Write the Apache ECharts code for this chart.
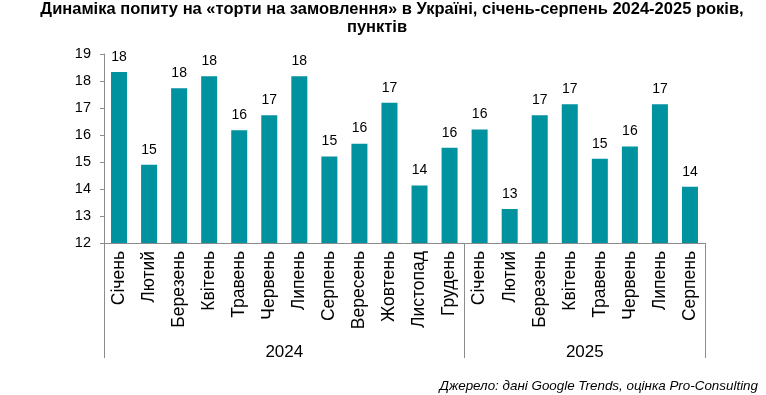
<!DOCTYPE html>
<html>
<head>
<meta charset="utf-8">
<script src="https://cdn.jsdelivr.net/npm/echarts@6/dist/echarts.min.js"></script>
<style>
html,body{margin:0;padding:0;background:#fff;}
#chart{width:766px;height:395px;}
</style>
</head>
<body>
<div id="chart"></div>
<script>
const months = ['Січень','Лютий','Березень','Квітень','Травень','Червень','Липень','Серпень','Вересень','Жовтень','Листопад','Грудень',
                'Січень','Лютий','Березень','Квітень','Травень','Червень','Липень','Серпень'];
const values = [18.33,14.9,17.73,18.18,16.18,16.73,18.18,15.2,15.68,17.19,14.13,15.53,
                16.2,13.26,16.73,17.14,15.12,15.57,17.14,14.08];
const years = ['2024','2025'];
const yearCounts = [12, 8];
const yTicks = [12,13,14,15,16,17,18,19];

const titleLine1 = 'Динаміка попиту на «торти на замовлення» в Україні, січень-серпень 2024-2025 років,';
const titleLine2 = 'пунктів';
const sourceText = 'Джерело: дані Google Trends, оцінка Pro-Consulting';

const FONT = '"Liberation Sans", Arial, sans-serif';
const AXIS_GRAY = '#8c8c8c';

// group boundaries and centers in category units
const bounds = [0];
yearCounts.forEach(c => bounds.push(bounds[bounds.length-1] + c));
const centers = yearCounts.map((c, i) => bounds[i] + c / 2);
const total = bounds[bounds.length-1];

const chart = echarts.init(document.getElementById('chart'), null, {renderer:'canvas'});
chart.setOption({
  animation: false,
  backgroundColor: '#fff',
  textStyle: {fontFamily: FONT},
  title: [
    {text: titleLine1, left: 392, top: 1, padding: 0, textAlign: 'center',
     textStyle: {fontSize: 16.5, fontWeight: 'bold', color: '#000', fontFamily: FONT}},
    {text: titleLine2, left: 377, top: 19, padding: 0, textAlign: 'center',
     textStyle: {fontSize: 16.5, fontWeight: 'bold', color: '#000', fontFamily: FONT}},
    {text: sourceText, right: 8, bottom: 2, padding: 0,
     textStyle: {fontSize: 13.4, fontStyle: 'italic', fontWeight: 'normal', color: '#000', fontFamily: FONT}}
  ],
  grid: {left: 104, right: 61, top: 54, bottom: 152, containLabel: false},
  xAxis: [
    {
      type: 'category',
      data: months,
      position: 'bottom',
      axisLine: {show: true, lineStyle: {color: AXIS_GRAY, width: 1}},
      axisTick: {show: false},
      axisLabel: {interval: 0, rotate: 90, fontSize: 17.5, color: '#000', margin: 8, fontFamily: FONT}
    },
    {
      type: 'value',
      min: 0,
      max: total,
      position: 'bottom',
      axisLine: {show: false},
      splitLine: {show: false},
      axisTick: {show: true, inside: false, length: 115, customValues: bounds,
                 lineStyle: {color: AXIS_GRAY, width: 1}},
      axisLabel: {show: true, customValues: centers, margin: 101, fontSize: 17, color: '#000',
                  fontFamily: FONT,
                  formatter: function (v) {
                    const i = centers.indexOf(v);
                    return i >= 0 ? years[i] : '';
                  }}
    }
  ],
  yAxis: {
    type: 'value',
    min: yTicks[0],
    max: yTicks[yTicks.length-1],
    interval: 1,
    axisLine: {show: true, lineStyle: {color: AXIS_GRAY, width: 1}},
    axisTick: {show: true, inside: false, length: 4, lineStyle: {color: AXIS_GRAY}},
    splitLine: {show: false},
    axisLabel: {fontSize: 14.5, color: '#000', margin: 13, fontFamily: FONT}
  },
  series: [{
    type: 'bar',
    xAxisIndex: 0,
    data: values,
    barWidth: 16,
    itemStyle: {color: '#00929E'},
    label: {
      show: true,
      position: 'top',
      distance: 8,
      fontSize: 14,
      color: '#000',
      fontFamily: FONT,
      formatter: p => Math.round(p.value)
    }
  }]
});
</script>
</body>
</html>
